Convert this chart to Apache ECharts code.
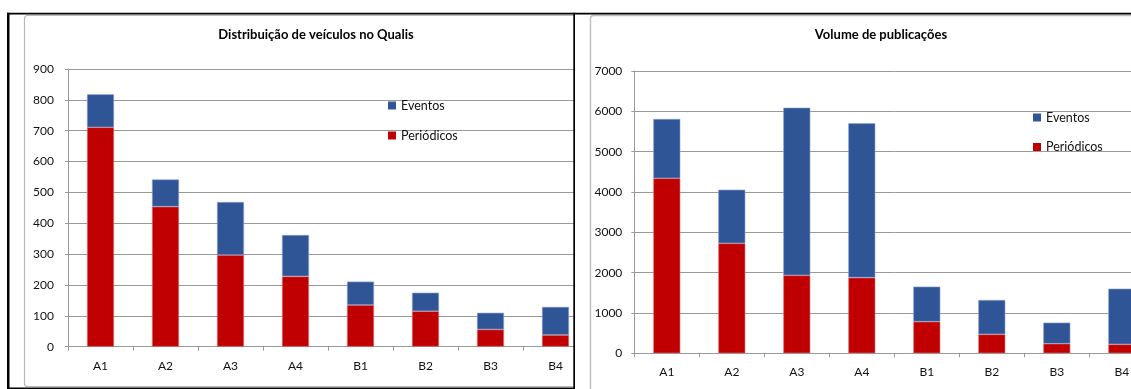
<!DOCTYPE html>
<html>
<head>
<meta charset="utf-8">
<script src="https://cdn.jsdelivr.net/npm/echarts@6/dist/echarts.min.js"></script>
<style>
  html, body { margin: 0; padding: 0; background: #fff; }
  #wrap { position: relative; width: 1131px; height: 389px; overflow: hidden; }
  .pane { position: absolute; top: 0; height: 389px; overflow: hidden; }
  #paneL { left: 0; width: 575px; }
  #paneR { left: 575px; width: 556px; }
  .chart { width: 620px; height: 389px; }
</style>
</head>
<body>
<div id="wrap">
  <div class="pane" id="paneL"><div class="chart" id="chartL"></div></div>
  <div class="pane" id="paneR"><div class="chart" id="chartR"></div></div>
</div>
<script>
// Qualis strata
const categories = ['A1', 'A2', 'A3', 'A4', 'B1', 'B2', 'B3', 'B4'];

// Number of venues per stratum
const veiculosPeriodicos = [711, 454, 297, 228, 135, 115, 56, 38];
const veiculosEventos    = [107, 88, 172, 134, 76, 60, 54, 91];

// Number of publications per stratum
const publicacoesPeriodicos = [4340, 2727, 1934, 1876, 784, 471, 239, 223];
const publicacoesEventos    = [1470, 1330, 4156, 3827, 869, 851, 521, 1380];

// Value-axis ranges
const veiculosTicks    = { min: 0, max: 900, interval: 100 };
const publicacoesTicks = { min: 0, max: 7000, interval: 1000 };

const seriesNames = { eventos: 'Eventos', periodicos: 'Periódicos' };
const titles = {
  veiculos: 'Distribuição de veículos no Qualis',
  publicacoes: 'Volume de publicações'
};

const FONT = 'Lato, "Liberation Sans", sans-serif';
const BLUE = '#2F5597';
const RED = '#C00000';
const GRID_GRAY = '#9a9a9a';
const TEXT = '#111';

function legendEntry(name, x, y) {
  return {
    data: [name], left: x, top: y,
    icon: 'rect', itemWidth: 8, itemHeight: 8, selectedMode: false,
    itemStyle: { borderWidth: 0 },
    textStyle: { fontSize: 12.5, color: TEXT, fontFamily: FONT }
  };
}

function buildOption(cfg) {
  return {
    animation: false,
    textStyle: { fontFamily: FONT },
    grid: cfg.grid,
    graphic: cfg.graphic.concat([{
      type: 'text',
      x: cfg.titleX,
      y: 35,
      z: 10,
      style: {
        text: cfg.title,
        fill: '#000',
        font: 'bold 13px ' + FONT,
        textAlign: 'center',
        textVerticalAlign: 'middle'
      }
    }]),
    legend: [
      legendEntry(seriesNames.eventos, cfg.legendX, cfg.legendY[0]),
      legendEntry(seriesNames.periodicos, cfg.legendX, cfg.legendY[1])
    ],
    xAxis: {
      type: 'category',
      data: categories,
      axisLine: { lineStyle: { color: GRID_GRAY, width: 1 } },
      axisTick: { show: true, length: 4, lineStyle: { color: GRID_GRAY } },
      axisLabel: { margin: 13, fontSize: 12, color: TEXT, fontFamily: FONT }
    },
    yAxis: {
      type: 'value',
      min: cfg.ticks.min,
      max: cfg.ticks.max,
      interval: cfg.ticks.interval,
      axisLine: { show: true, lineStyle: { color: GRID_GRAY, width: 1 } },
      axisTick: { show: true, length: 3, lineStyle: { color: GRID_GRAY } },
      splitLine: { show: true, lineStyle: { color: GRID_GRAY, width: 1 } },
      axisLabel: {
        margin: cfg.yLabelMargin, fontSize: 12, color: TEXT, fontFamily: FONT,
        formatter: function (v) { return String(v); }
      }
    },
    series: [
      {
        name: seriesNames.periodicos,
        type: 'bar',
        stack: 'total',
        barWidth: 27,
        data: cfg.periodicos,
        itemStyle: { color: RED, borderColor: '#d97a7a', borderWidth: 0.6 }
      },
      {
        name: seriesNames.eventos,
        type: 'bar',
        stack: 'total',
        barWidth: 27,
        data: cfg.eventos,
        itemStyle: { color: BLUE, borderColor: '#8aa3d2', borderWidth: 0.6 }
      }
    ]
  };
}

// Left panel: venues
const chartL = echarts.init(document.getElementById('chartL'), null, { renderer: 'canvas' });
chartL.setOption(buildOption({
  title: titles.veiculos,
  titleX: 316,
  grid: { left: 68, top: 69, right: 32, bottom: 42.3 },
  ticks: veiculosTicks,
  yLabelMargin: 14,
  legendX: 383,
  legendY: [94, 124],
  periodicos: veiculosPeriodicos,
  eventos: veiculosEventos,
  graphic: [
    { type: 'rect', z: -1, shape: { x: 24.5, y: 15.5, width: 560, height: 371, r: 3 },
      style: { fill: 'none', stroke: '#b8b8b8', lineWidth: 1.2 } },
    { type: 'rect', z: 20, shape: { x: 7, y: 12.8, width: 620, height: 1.7 }, style: { fill: '#000' } },
    { type: 'rect', z: 20, shape: { x: 7, y: 12.8, width: 2.5, height: 377 }, style: { fill: '#000' } },
    { type: 'rect', z: 20, shape: { x: 573.3, y: 12.8, width: 1.7, height: 377 }, style: { fill: '#000' } },
    { type: 'rect', z: 20, shape: { x: 7, y: 387.6, width: 568, height: 1.4 }, style: { fill: '#000' } }
  ]
}));

// Right panel: publications
const chartR = echarts.init(document.getElementById('chartR'), null, { renderer: 'canvas' });
chartR.setOption(buildOption({
  title: titles.publicacoes,
  titleX: 306,
  grid: { left: 59.3, top: 71, right: 40.7, bottom: 35.7 },
  ticks: publicacoesTicks,
  yLabelMargin: 12,
  legendX: 453,
  legendY: [106, 135.5],
  periodicos: publicacoesPeriodicos,
  eventos: publicacoesEventos,
  graphic: [
    { type: 'rect', z: -1, shape: { x: 15.5, y: 15.5, width: 640, height: 420, r: 3 },
      style: { fill: 'none', stroke: '#bdbdbd', lineWidth: 1.4 } },
    { type: 'rect', z: 20, shape: { x: 0, y: 12.8, width: 620, height: 1.7 }, style: { fill: '#000' } }
  ]
}));
</script>
</body>
</html>
